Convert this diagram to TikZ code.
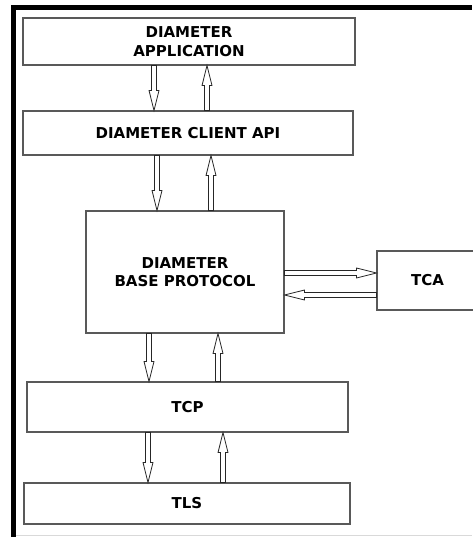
\documentclass[tikz,border=0pt]{standalone}
\usepackage{fontspec}
\setmainfont{DejaVu Sans}
\usetikzlibrary{calc}

\begin{document}
\begin{tikzpicture}[x=1pt, y=-1pt,
  layer/.style={draw=black!65, line width=1.1pt, rectangle, align=center, inner sep=0pt,
    font=\fontsize{15}{18.5}\selectfont\bfseries},
  hollow/.style={draw=black!85, line width=0.8pt, fill=white, to path={
    ($(\tikztostart)!2.5pt!90:(\tikztotarget)$)
    -- ($(\tikztotarget)!20.2pt!-7.1:(\tikztostart)$)
    -- ($(\tikztotarget)!20.6pt!-14:(\tikztostart)$)
    -- (\tikztotarget)
    -- ($(\tikztotarget)!20.6pt!14:(\tikztostart)$)
    -- ($(\tikztotarget)!20.2pt!7.1:(\tikztostart)$)
    -- ($(\tikztostart)!2.5pt!-90:(\tikztotarget)$) -- cycle}}]
\useasboundingbox (0,0) rectangle (472,537);
\fill[white] (0,0) rectangle (472,537);
% frame
\fill[black] (11,5) rectangle (472,10);
\fill[black] (11,5) rectangle (16,537);
\draw[black!15] (16,535) -- (472,535);

\node[layer, minimum width=332pt, minimum height=47pt] (app) at (189,41.5) {DIAMETER\\APPLICATION};
\node[layer, minimum width=330pt, minimum height=44pt] (api) at (188,133) {DIAMETER CLIENT API};
\node[layer, minimum width=198pt, minimum height=122pt] (base) at (185,272) {DIAMETER\\BASE PROTOCOL};
\node[layer, minimum width=101pt, minimum height=59pt] (tca) at (427.5,280.5) {TCA};
\node[layer, minimum width=321pt, minimum height=50pt] (tcp) at (187.5,407) {TCP};
\node[layer, minimum width=326pt, minimum height=41pt] (tls) at (187,503.5) {TLS};

\draw[hollow] (app.south -| 154,0) to (api.north -| 154,0);
\draw[hollow] (api.north -| 207,0) to (app.south -| 207,0);
\draw[hollow] (api.south -| 157,0) to (base.north -| 157,0);
\draw[hollow] (base.north -| 211,0) to (api.south -| 211,0);
\draw[hollow] (base.south -| 149,0) to (tcp.north -| 149,0);
\draw[hollow] (tcp.north -| 218,0) to (base.south -| 218,0);
\draw[hollow] (tcp.south -| 148,0) to (tls.north -| 148,0);
\draw[hollow] (tls.north -| 223,0) to (tcp.south -| 223,0);
\draw[hollow] (base.east |- 0,273) to (tca.west |- 0,273);
\draw[hollow] (tca.west |- 0,295) to (base.east |- 0,295);
\end{tikzpicture}
\end{document}
